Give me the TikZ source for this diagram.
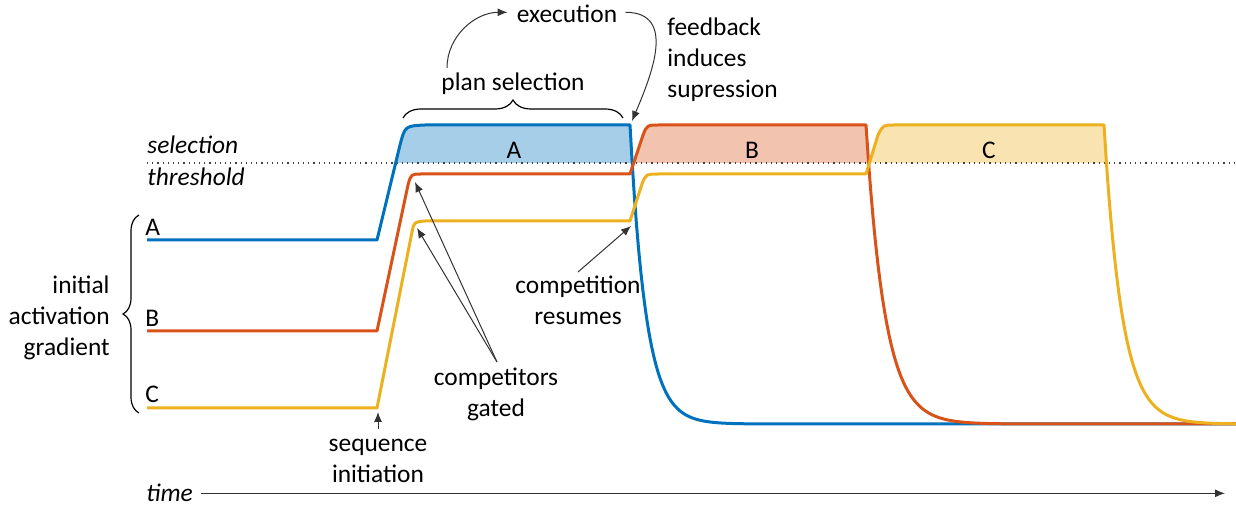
\documentclass[tikz,border=0pt]{standalone}
\usepackage{fontspec}
\setmainfont{Carlito}
\usetikzlibrary{arrows.meta,decorations.pathreplacing}

\definecolor{actA}{RGB}{0,114,189}
\definecolor{actB}{RGB}{217,83,25}
\definecolor{actC}{RGB}{237,177,32}

\begin{document}
\begin{tikzpicture}[x=0.5pt,y=-0.5pt,font=\fontsize{12.7}{15.7}\selectfont,
  curve/.style={line width=1.5pt,line join=round},
  note/.style={anchor=base,inner sep=0pt,align=center},
  pointer/.style={draw=black!80,line width=0.5pt,-{Latex[length=5pt,width=4pt]}},
  bracket/.style={draw=black,line width=0.6pt,decorate}]

\useasboundingbox (0,0) rectangle (1236,506);

% threshold and resting level
\def\thr{163}
\def\bot{424}
\def\drop{299}

% ======== filled parts above the threshold ========
\begin{scope}
\clip (0,0) rectangle (1236,\thr);
\fill[actA!35] (377,240) -- (400,145) .. controls (405,126) .. (425,125) -- (630,125) -- (634.5,175) -- cycle;
\fill[actB!35] (630,174) -- (643,135) .. controls (647,125) .. (660,125) -- (866,125) -- (870.5,175) -- cycle;
\fill[actC!35] (866,174) -- (878,135) .. controls (883,125) .. (895,125) -- (1104,125) -- (1108.5,175) -- cycle;
\end{scope}

\draw[dotted,black!75,line width=0.6pt] (147,\thr) -- (1236,\thr);

% ======== activation curves ========
\draw[curve,actA] (147,240) -- (377,240) -- (400,145) .. controls (405,126) .. (425,125) -- (630,125)
  -- plot[domain=630:800,samples=80] (\x,{\bot-\drop*exp(-(\x-630)/16)}) -- (1236,\bot);
\draw[curve,actB] (147,331) -- (377,331) -- (408,185) .. controls (411,174) .. (422,174) -- (630,174)
  -- (643,135) .. controls (647,125) .. (660,125) -- (866,125)
  -- plot[domain=866:1050,samples=80] (\x,{\bot-\drop*exp(-(\x-866)/19)}) -- (1236,\bot);
\draw[curve,actC] (147,408) -- (377,408) -- (412,232) .. controls (414,222) .. (425,221) -- (630,221)
  -- (642,184) .. controls (646,174) .. (660,174) -- (866,174)
  -- (878,135) .. controls (883,125) .. (895,125) -- (1104,125)
  -- plot[domain=1104:1236,samples=80] (\x,{\bot-\drop*exp(-(\x-1104)/18)});

% ======== labels ========
% (a node of several lines sits on the base line of its last line)
\node[note,anchor=base west,font=\fontsize{12.7}{15.7}\selectfont\itshape] (sel) at (147,154) {selection};
\node[note,anchor=base west,font=\fontsize{12.7}{15.7}\selectfont\itshape] (thr) at (147,186) {threshold};

\foreach \n/\y in {A/236,B/327,C/403}
  \node[note,anchor=base west] (start\n) at (145,\y) {\n};

\foreach \n/\x in {A/514,B/752,C/989}
  \node[note] (reg\n) at (\x,159) {\n};

\node[note,align=right,anchor=base east] (grad) at (110,356) {initial\\activation\\gradient};
\draw[bracket,decoration={brace,amplitude=8pt}] (139,413) -- (139,215);

\node[note] (plan) at (513,91) {plan selection};
\draw[bracket,decoration={brace,amplitude=9pt}] (403,118) -- (623,118);

\node[note] (exec) at (567,23) {execution};
\node[note,align=left,anchor=base west] (feed) at (667,98) {feedback\\induces\\supression};

\node[note] (gate) at (496,417) {competitors\\gated};
\node[note] (resume) at (578,325) {competition\\resumes};
\node[note] (seq) at (378,483) {sequence\\initiation};
\node[note,anchor=base west,font=\fontsize{12.7}{15.7}\selectfont\itshape] (time) at (146,502) {time};

% ======== pointers ========
\coordinate (planUp) at (447,68);
\coordinate (topA) at (632,121);
\coordinate (kneeB) at (415,182);
\coordinate (kneeC) at (417,228);
\coordinate (gateUp) at (497,362);
\coordinate (kneeC2) at (631,226);
\coordinate (resumeUp) at (578,272);
\coordinate (seqUp) at (378,429);
\coordinate (startC) at (378,412);
\coordinate (tEnd) at (1225,495);

\draw[pointer] (planUp) to[out=90,in=180] ([xshift=-4.5pt,yshift=1pt]exec.west);
\draw[pointer] ([xshift=4pt,yshift=1pt]exec.east) to[out=0,in=67,looseness=1.2] (topA);
\draw[pointer] (gateUp) -- (kneeB);
\draw[pointer] (gateUp) -- (kneeC);
\draw[pointer] (resumeUp) -- (kneeC2);
\draw[pointer] (seqUp) -- (startC);
\draw[pointer] ([xshift=4pt]time.east) -- (time.east -| tEnd);

\end{tikzpicture}
\end{document}
